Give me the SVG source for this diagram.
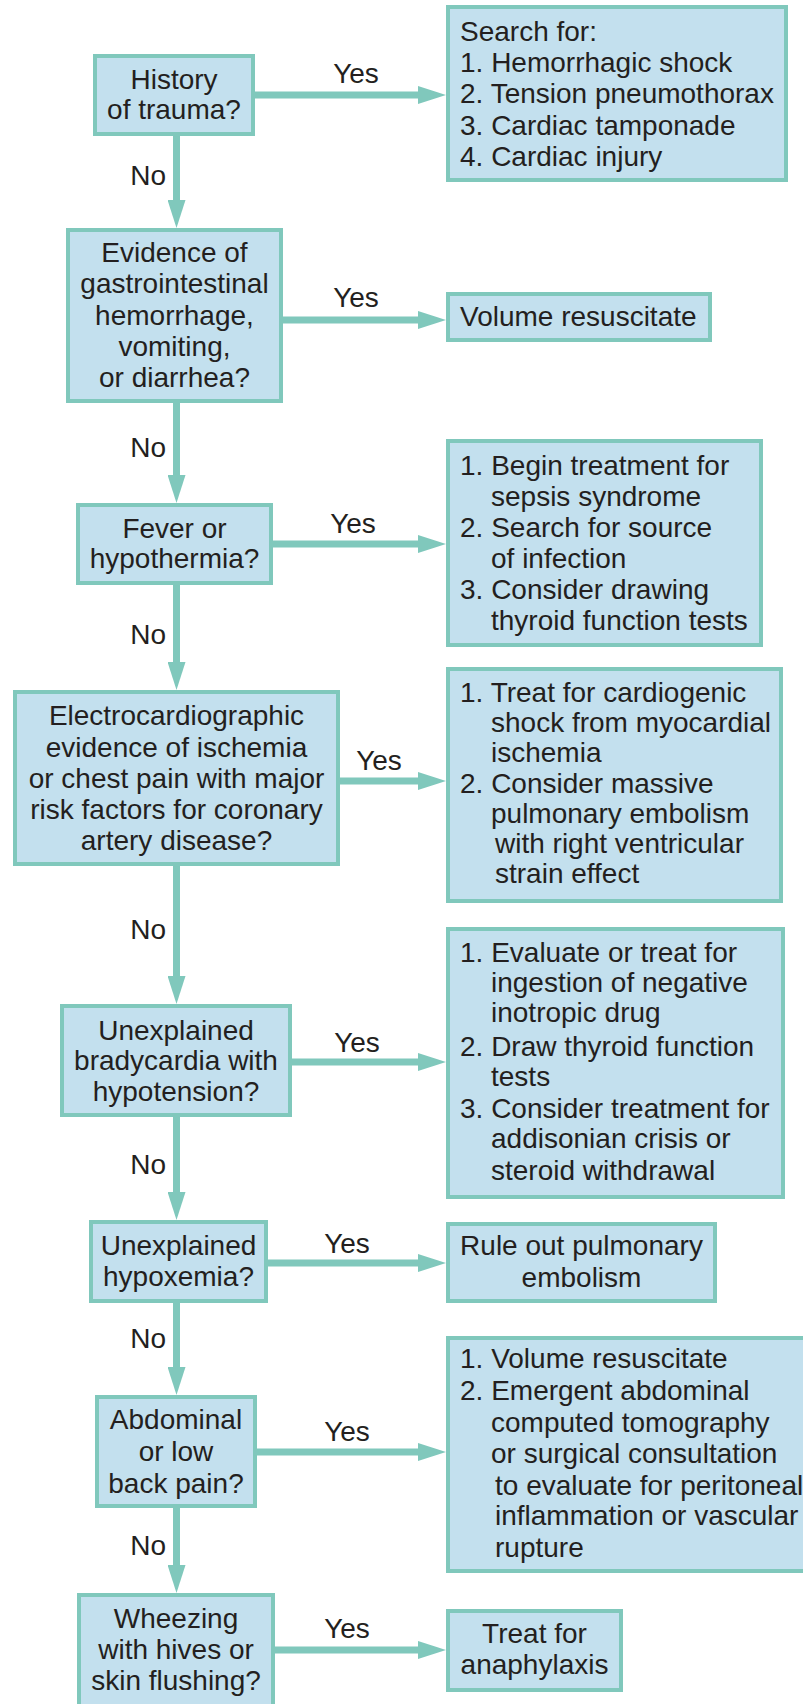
<svg xmlns="http://www.w3.org/2000/svg" width="803" height="1704" viewBox="0 0 803 1704">
<style>
.box{fill:#c3e0ee;stroke:#80c8bc;stroke-width:4}
.t{font-family:"Liberation Sans",Arial,Helvetica,sans-serif;font-size:28px;fill:#231f20}
.c{text-anchor:middle}
.no{text-anchor:end}
.ln{stroke:#80c8bc;stroke-width:7;fill:none}
</style>
<defs>
<marker id="ah" viewBox="0 0 28 18" refX="0" refY="9" markerWidth="28" markerHeight="18" markerUnits="userSpaceOnUse" orient="auto">
<path d="M0,0 L28,9 L0,18 z" fill="#80c8bc"/>
</marker>
</defs>
<rect width="803" height="1704" fill="#ffffff"/>

<g id="connectors">
<line class="ln" x1="176.5" y1="136" x2="176.5" y2="200" marker-end="url(#ah)"/>
<line class="ln" x1="176.5" y1="403" x2="176.5" y2="475" marker-end="url(#ah)"/>
<line class="ln" x1="176.5" y1="585" x2="176.5" y2="662" marker-end="url(#ah)"/>
<line class="ln" x1="176.5" y1="866" x2="176.5" y2="976" marker-end="url(#ah)"/>
<line class="ln" x1="176.5" y1="1117" x2="176.5" y2="1192" marker-end="url(#ah)"/>
<line class="ln" x1="176.5" y1="1303" x2="176.5" y2="1367" marker-end="url(#ah)"/>
<line class="ln" x1="176.5" y1="1508" x2="176.5" y2="1565" marker-end="url(#ah)"/>

<line class="ln" x1="255" y1="95" x2="418" y2="95" marker-end="url(#ah)"/>
<line class="ln" x1="283" y1="320" x2="418" y2="320" marker-end="url(#ah)"/>
<line class="ln" x1="273" y1="544" x2="418" y2="544" marker-end="url(#ah)"/>
<line class="ln" x1="340" y1="781" x2="418" y2="781" marker-end="url(#ah)"/>
<line class="ln" x1="292" y1="1062" x2="418" y2="1062" marker-end="url(#ah)"/>
<line class="ln" x1="268" y1="1263" x2="418" y2="1263" marker-end="url(#ah)"/>
<line class="ln" x1="257" y1="1452" x2="418" y2="1452" marker-end="url(#ah)"/>
<line class="ln" x1="275" y1="1650" x2="418" y2="1650" marker-end="url(#ah)"/>

<text class="t no" x="166" y="185">No</text>
<text class="t no" x="166" y="457">No</text>
<text class="t no" x="166" y="644">No</text>
<text class="t no" x="166" y="939">No</text>
<text class="t no" x="166" y="1174">No</text>
<text class="t no" x="166" y="1348">No</text>
<text class="t no" x="166" y="1555">No</text>

<text class="t c" x="356" y="83">Yes</text>
<text class="t c" x="356" y="307">Yes</text>
<text class="t c" x="353" y="533">Yes</text>
<text class="t c" x="379" y="770">Yes</text>
<text class="t c" x="357" y="1052">Yes</text>
<text class="t c" x="347" y="1253">Yes</text>
<text class="t c" x="347" y="1441">Yes</text>
<text class="t c" x="347" y="1638">Yes</text>
</g>

<g id="q-trauma">
<rect class="box" x="95" y="56" width="158" height="78"/>
<text class="t c" x="174" y="89">History</text>
<text class="t c" x="174" y="119">of trauma?</text>
</g>

<g id="a-trauma">
<rect class="box" x="448" y="7" width="338" height="173"/>
<text class="t" x="460" y="41">Search for:</text>
<text class="t" x="460" y="72">1. Hemorrhagic shock</text>
<text class="t" x="460" y="103">2. Tension pneumothorax</text>
<text class="t" x="460" y="135">3. Cardiac tamponade</text>
<text class="t" x="460" y="166">4. Cardiac injury</text>
</g>

<g id="q-gi">
<rect class="box" x="68" y="230" width="213" height="171"/>
<text class="t c" x="174.5" y="262">Evidence of</text>
<text class="t c" x="174.5" y="293">gastrointestinal</text>
<text class="t c" x="174.5" y="325">hemorrhage,</text>
<text class="t c" x="174.5" y="356">vomiting,</text>
<text class="t c" x="174.5" y="387">or diarrhea?</text>
</g>

<g id="a-gi">
<rect class="box" x="448" y="294" width="262" height="46"/>
<text class="t" x="460" y="326">Volume resuscitate</text>
</g>

<g id="q-fever">
<rect class="box" x="78" y="505" width="193" height="78"/>
<text class="t c" x="174.5" y="538">Fever or</text>
<text class="t c" x="174.5" y="568">hypothermia?</text>
</g>

<g id="a-fever">
<rect class="box" x="448" y="441" width="313" height="204"/>
<text class="t" x="460" y="475">1. Begin treatment for</text>
<text class="t" x="491" y="506">sepsis syndrome</text>
<text class="t" x="460" y="537">2. Search for source</text>
<text class="t" x="491" y="568">of infection</text>
<text class="t" x="460" y="599">3. Consider drawing</text>
<text class="t" x="491" y="630">thyroid function tests</text>
</g>

<g id="q-ecg">
<rect class="box" x="15" y="692" width="323" height="172"/>
<text class="t c" x="176.5" y="725">Electrocardiographic</text>
<text class="t c" x="176.5" y="757">evidence of ischemia</text>
<text class="t c" x="176.5" y="788">or chest pain with major</text>
<text class="t c" x="176.5" y="819">risk factors for coronary</text>
<text class="t c" x="176.5" y="850">artery disease?</text>
</g>

<g id="a-ecg">
<rect class="box" x="448" y="669" width="333" height="232"/>
<text class="t" x="460" y="702">1. Treat for cardiogenic</text>
<text class="t" x="491" y="732">shock from myocardial</text>
<text class="t" x="491" y="762">ischemia</text>
<text class="t" x="460" y="793">2. Consider massive</text>
<text class="t" x="491" y="823">pulmonary embolism</text>
<text class="t" x="495" y="853">with right ventricular</text>
<text class="t" x="495" y="883">strain effect</text>
</g>

<g id="q-brady">
<rect class="box" x="62" y="1006" width="228" height="109"/>
<text class="t c" x="176" y="1040">Unexplained</text>
<text class="t c" x="176" y="1070">bradycardia with</text>
<text class="t c" x="176" y="1101">hypotension?</text>
</g>

<g id="a-brady">
<rect class="box" x="448" y="929" width="335" height="268"/>
<text class="t" x="460" y="962">1. Evaluate or treat for</text>
<text class="t" x="491" y="992">ingestion of negative</text>
<text class="t" x="491" y="1022">inotropic drug</text>
<text class="t" x="460" y="1056">2. Draw thyroid function</text>
<text class="t" x="491" y="1086">tests</text>
<text class="t" x="460" y="1118">3. Consider treatment for</text>
<text class="t" x="491" y="1148">addisonian crisis or</text>
<text class="t" x="491" y="1180">steroid withdrawal</text>
</g>

<g id="q-hypox">
<rect class="box" x="91" y="1222" width="175" height="79"/>
<text class="t c" x="178.5" y="1255">Unexplained</text>
<text class="t c" x="178.5" y="1286">hypoxemia?</text>
</g>

<g id="a-hypox">
<rect class="box" x="448" y="1224" width="267" height="77"/>
<text class="t c" x="581.5" y="1255">Rule out pulmonary</text>
<text class="t c" x="581.5" y="1287">embolism</text>
</g>

<g id="q-abd">
<rect class="box" x="97" y="1397" width="158" height="109"/>
<text class="t c" x="176" y="1429">Abdominal</text>
<text class="t c" x="176" y="1461">or low</text>
<text class="t c" x="176" y="1493">back pain?</text>
</g>

<g id="a-abd">
<rect class="box" x="448" y="1338" width="360" height="233"/>
<text class="t" x="460" y="1368">1. Volume resuscitate</text>
<text class="t" x="460" y="1400">2. Emergent abdominal</text>
<text class="t" x="491" y="1432">computed tomography</text>
<text class="t" x="491" y="1463">or surgical consultation</text>
<text class="t" x="495" y="1495">to evaluate for peritoneal</text>
<text class="t" x="495" y="1525">inflammation or vascular</text>
<text class="t" x="495" y="1557">rupture</text>
</g>

<g id="q-wheeze">
<rect class="box" x="79" y="1595" width="194" height="115"/>
<text class="t c" x="176" y="1628">Wheezing</text>
<text class="t c" x="176" y="1659">with hives or</text>
<text class="t c" x="176" y="1690">skin flushing?</text>
</g>

<g id="a-wheeze">
<rect class="box" x="448" y="1611" width="173" height="79"/>
<text class="t c" x="534.5" y="1643">Treat for</text>
<text class="t c" x="534.5" y="1674">anaphylaxis</text>
</g>
</svg>
